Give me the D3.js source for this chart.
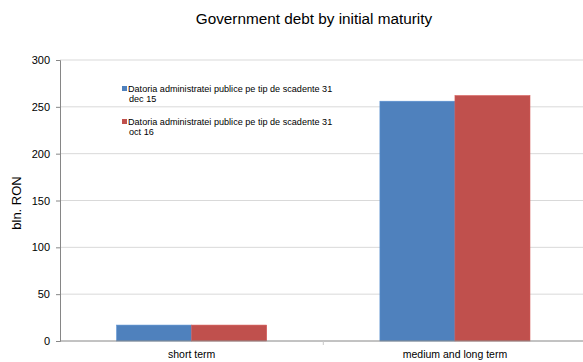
<!DOCTYPE html>
<html>
<head>
<meta charset="utf-8">
<script src="https://cdn.jsdelivr.net/npm/d3@7"></script>
<style>
  body { margin: 0; background: #fff; }
  text { font-family: "Liberation Sans", Arial, sans-serif; fill: #000; }
</style>
</head>
<body>
<div id="chart"></div>
<script>
// Data
const categories = ["short term", "medium and long term"];
const seriesNames = [
    ["Datoria administratei publice pe tip de scadente 31", "dec 15"],
    ["Datoria administratei publice pe tip de scadente 31", "oct 16"]
];
const dec15 = [17, 256];
const oct16 = [17, 262];
const yTicks = [0, 50, 100, 150, 200, 250, 300];
const colors = ["#4f81bd", "#c0504d"];

const width = 583, height = 362;
const margin = {top: 60, left: 60, bottom: 21};
const plotRight = 586.6;

const svg = d3.select("#chart").append("svg")
    .attr("width", width)
    .attr("height", height);

const y = d3.scaleLinear()
    .domain([0, 300])
    .range([height - margin.bottom, margin.top]);

const x = d3.scaleBand()
    .domain(categories)
    .range([margin.left, plotRight])
    .paddingInner(0.43)
    .paddingOuter(0.215);

const xs = d3.scaleBand()
    .domain([0, 1])
    .range([0, x.bandwidth()]);

// Gridlines
svg.append("g")
    .selectAll("line")
    .data(yTicks.filter(d => d > 0))
    .enter()
    .append("line")
        .attr("x1", margin.left)
        .attr("x2", width)
        .attr("y1", d => y(d))
        .attr("y2", d => y(d))
        .attr("stroke", "#d9d9d9")
        .attr("stroke-width", 1);

// Bars
const rows = categories.map((c, i) => ({cat: c, values: [dec15[i], oct16[i]]}));
svg.append("g")
    .selectAll("g")
    .data(rows)
    .enter()
    .append("g")
        .attr("transform", d => `translate(${x(d.cat)},0)`)
        .selectAll("rect")
        .data(d => d.values.map((v, k) => ({k, v})))
        .enter()
        .append("rect")
            .attr("x", d => xs(d.k))
            .attr("width", xs.bandwidth())
            .attr("y", d => y(d.v))
            .attr("height", d => y(0) - y(d.v))
            .attr("fill", d => colors[d.k])
            .attr("stroke", d => d3.color(colors[d.k]).brighter(0.3))
            .attr("stroke-width", 0.6);

// Y axis
const yAxis = svg.append("g")
    .attr("transform", `translate(${margin.left},0)`)
    .call(d3.axisLeft(y).tickValues(yTicks).tickSize(4).tickPadding(6));
yAxis.select(".domain").attr("stroke", "#868686");
yAxis.selectAll(".tick line").attr("stroke", "#868686");
yAxis.selectAll(".tick text")
    .style("font-size", "11px")
    .style("font-family", "Liberation Sans, Arial, sans-serif");

// X axis
svg.append("line")
    .attr("x1", margin.left)
    .attr("x2", width)
    .attr("y1", y(0))
    .attr("y2", y(0))
    .attr("stroke", "#868686")
    .attr("stroke-width", 1);
svg.append("line")
    .attr("x1", x("short term") + x.step() - x.paddingInner() * x.step() / 2)
    .attr("x2", x("short term") + x.step() - x.paddingInner() * x.step() / 2)
    .attr("y1", y(0))
    .attr("y2", y(0) + 4)
    .attr("stroke", "#c8c8c8");

svg.append("g")
    .selectAll("text")
    .data(categories)
    .enter()
    .append("text")
        .attr("x", d => x(d) + x.bandwidth() / 2)
        .attr("y", 358)
        .attr("text-anchor", "middle")
        .style("font-size", "10.5px")
        .text(d => d);

// Titles
svg.append("text")
    .attr("x", 314)
    .attr("y", 24)
    .attr("text-anchor", "middle")
    .style("font-size", "15.3px")
    .text("Government debt by initial maturity");

svg.append("text")
    .attr("transform", `translate(21,203) rotate(-90)`)
    .attr("text-anchor", "middle")
    .style("font-size", "13px")
    .text("bln. RON");

// Legend
const legend = svg.append("g").attr("transform", "translate(122,86)");
const entries = legend.selectAll("g")
    .data(seriesNames)
    .enter()
    .append("g")
        .attr("transform", (d, i) => `translate(0,${i * 33})`);
entries.append("rect")
    .attr("x", 0)
    .attr("y", 0)
    .attr("width", 5)
    .attr("height", 5)
    .attr("fill", (d, i) => colors[i]);
entries.append("text")
    .attr("x", 6)
    .attr("y", 6)
    .style("font-size", "9.1px")
    .selectAll("tspan")
    .data(d => d)
    .enter()
    .append("tspan")
        .attr("x", (d, i) => i === 0 ? 6 : 7)
        .attr("dy", (d, i) => i === 0 ? 0 : 10)
        .text(d => d);
</script>
</body>
</html>
